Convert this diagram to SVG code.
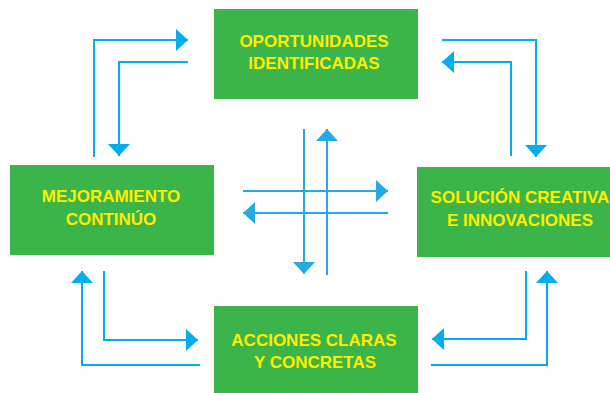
<svg xmlns="http://www.w3.org/2000/svg" width="610" height="393" viewBox="0 0 610 393">
<style>
.box{fill:#3bb54a}
.lbl{font-family:"Liberation Sans",Arial,sans-serif;font-weight:bold;font-size:17px;fill:#ffed00;text-anchor:middle}
.c{fill:none;stroke:#00aeef;stroke-width:2}
.x{fill:none;stroke:#27aae1;stroke-width:2}
</style>
<defs>
<marker id="a" viewBox="0 0 12 22" refX="12" refY="11" markerWidth="12" markerHeight="22" markerUnits="userSpaceOnUse" orient="auto">
<path d="M0,0 L12,11 L0,22 Z" fill="#00aeef"/>
</marker>
<marker id="b" viewBox="0 0 12 22" refX="12" refY="11" markerWidth="12" markerHeight="22" markerUnits="userSpaceOnUse" orient="auto">
<path d="M0,0 L12,11 L0,22 Z" fill="#27aae1"/>
</marker>
</defs>
<g id="n-oportunidades">
<rect class="box" x="214" y="9" width="204" height="90"/>
<text class="lbl" x="314" y="47">OPORTUNIDADES</text>
<text class="lbl" x="314" y="69">IDENTIFICADAS</text>
</g>
<g id="n-solucion">
<rect class="box" x="417" y="167" width="193" height="90"/>
<text class="lbl" x="520" y="203">SOLUCIÓN CREATIVA</text>
<text class="lbl" x="520" y="226">E INNOVACIONES</text>
</g>
<g id="n-mejoramiento">
<rect class="box" x="10" y="165" width="204" height="90"/>
<text class="lbl" x="111" y="202">MEJORAMIENTO</text>
<text class="lbl" x="111" y="225">CONTINÚO</text>
</g>
<g id="n-acciones">
<rect class="box" x="214" y="306" width="204" height="87"/>
<text class="lbl" x="314" y="346">ACCIONES CLARAS</text>
<text class="lbl" x="315" y="368">Y CONCRETAS</text>
</g>
<g id="connectors">
<path class="c" d="M94,157 V40 H188" marker-end="url(#a)"/>
<path class="c" d="M188,62 H119 V156" marker-end="url(#a)"/>
<path class="c" d="M442,40 H536 V157" marker-end="url(#a)"/>
<path class="c" d="M511,156 V62 H442" marker-end="url(#a)"/>
<path class="c" d="M104,271 V340 H198" marker-end="url(#a)"/>
<path class="c" d="M200,365 H82 V271" marker-end="url(#a)"/>
<path class="c" d="M526,271 V339 H432" marker-end="url(#a)"/>
<path class="c" d="M431,365 H547 V271" marker-end="url(#a)"/>
<path class="x" d="M304,129 V274" marker-end="url(#b)"/>
<path class="x" d="M327,275 V129" marker-end="url(#b)"/>
<path class="x" d="M243,191 H388" marker-end="url(#b)"/>
<path class="x" d="M388,213 H243" marker-end="url(#b)"/>
</g>
</svg>
